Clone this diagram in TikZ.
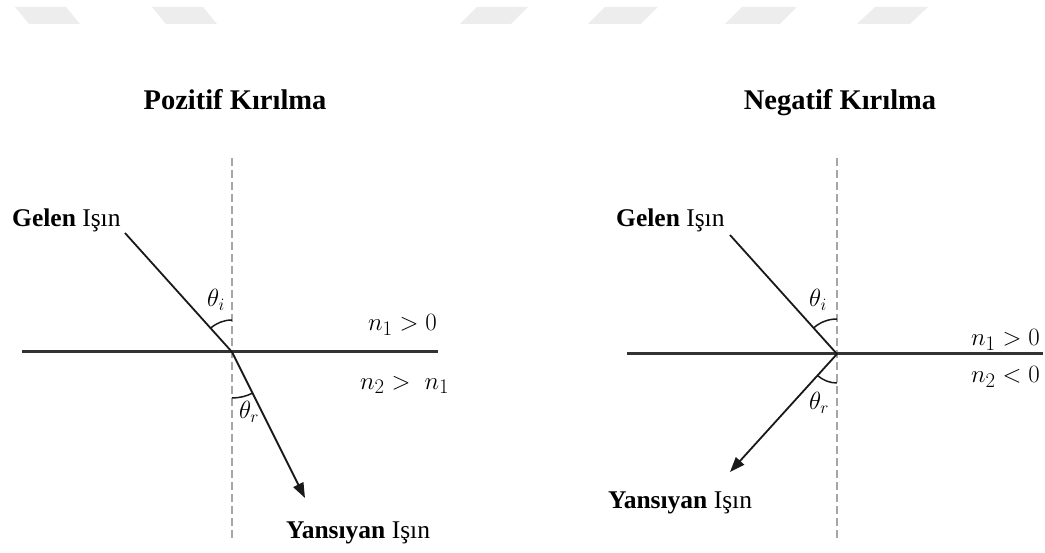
\documentclass[tikz,border=0pt]{standalone}
\usepackage{fontspec}
\setmainfont{Liberation Serif}
\usetikzlibrary{arrows.meta}
\tikzset{
  lbl/.style={inner sep=0pt, font=\fontsize{25.5}{30}\selectfont},
  ttl/.style={inner sep=0pt, font=\bfseries\fontsize{28.5}{32}\selectfont},
  mth/.style={inner sep=0pt, font=\fontsize{28}{32}\selectfont},
  ang/.style={inner sep=0pt, font=\fontsize{25}{28}\selectfont},
  normal/.style={draw=gray!70, line width=2.6pt, dash pattern=on 8pt off 4pt},
  surface/.style={draw=black!80, line width=3pt},
  ray/.style={draw=black!90, line width=1.8pt},
  arc/.style={draw=black!90, line width=1.5pt},
  wm/.style={fill=black!7, draw=none},
}
\begin{document}
\begin{tikzpicture}[x=1pt,y=1pt]
\useasboundingbox (0,0) rectangle (1045,553);
% faint watermark shapes
\fill[wm] (15,546) -- (66,546) -- (80,529) -- (29,529) -- cycle;
\fill[wm] (152,546) -- (203,546) -- (217,529) -- (166,529) -- cycle;
\fill[wm] (477,546) -- (528,546) -- (511,529) -- (460,529) -- cycle;
\fill[wm] (605,546) -- (658,546) -- (641,529) -- (588,529) -- cycle;
\fill[wm] (742,546) -- (797,546) -- (780,529) -- (725,529) -- cycle;
\fill[wm] (875,546) -- (928,546) -- (910,529) -- (857,529) -- cycle;

% ---------- Left: Pozitif ----------
\node[ttl, anchor=base] (t1) at (235,443) {Pozitif Kırılma};
\coordinate (O1) at (232,201);
\coordinate (n1top) at (232,395);
\coordinate (n1bot) at (232,13);
\coordinate (s1l) at (22,201);
\coordinate (s1r) at (438,201);
\coordinate (i1) at (125,320);
\coordinate (r1) at (305,55);
\draw[normal] (n1top) -- (n1bot);
\draw[surface] (s1l) -- (s1r);
\draw[ray] (i1) -- (O1);
\draw[ray, -{Triangle[length=15pt,width=11pt]}] (O1) -- (r1);
\draw[arc] ([shift={(90:32)}]O1) arc[start angle=90, end angle=132, radius=32];
\draw[arc] ([shift={(270:46)}]O1) arc[start angle=270, end angle=296.6, radius=46];
\node[ang] (ti1) at (216,253) {$\theta_i$};
\node[ang] (tr1) at (249,141) {$\theta_r$};
\node[mth, anchor=east] (m11) at (437,228) {$n_1 > 0$};
\node[mth, anchor=west] (m12) at (360,168) {$n_2 >\ n_1$};
\node[lbl, anchor=base west] (g1) at (12,326) {\textbf{Gelen} Işın};
\node[lbl, anchor=base west] (y1) at (286,14) {\textbf{Yansıyan} Işın};

% ---------- Right: Negatif ----------
\node[ttl, anchor=base] (t2) at (840,443) {Negatif Kırılma};
\coordinate (O2) at (837,199);
\coordinate (n2top) at (837,395);
\coordinate (n2bot) at (837,13);
\coordinate (s2l) at (627,199);
\coordinate (s2r) at (1043,199);
\coordinate (i2) at (730,318);
\coordinate (r2) at (730,81);
\draw[normal] (n2top) -- (n2bot);
\draw[surface] (s2l) -- (s2r);
\draw[ray] (i2) -- (O2);
\draw[ray, -{Triangle[length=15pt,width=11pt]}] (O2) -- (r2);
\draw[arc] ([shift={(90:35)}]O2) arc[start angle=90, end angle=132, radius=35];
\draw[arc] ([shift={(227.8:29)}]O2) arc[start angle=227.8, end angle=270, radius=29];
\node[ang] (ti2) at (818,253) {$\theta_i$};
\node[ang] (tr2) at (819,150) {$\theta_r$};
\node[mth, anchor=east] (m21) at (1040,213) {$n_1 > 0$};
\node[mth, anchor=east] (m22) at (1040,176) {$n_2 < 0$};
\node[lbl, anchor=base west] (g2) at (616,326) {\textbf{Gelen} Işın};
\node[lbl, anchor=base west] (y2) at (608,44) {\textbf{Yansıyan} Işın};
\end{tikzpicture}
\end{document}
